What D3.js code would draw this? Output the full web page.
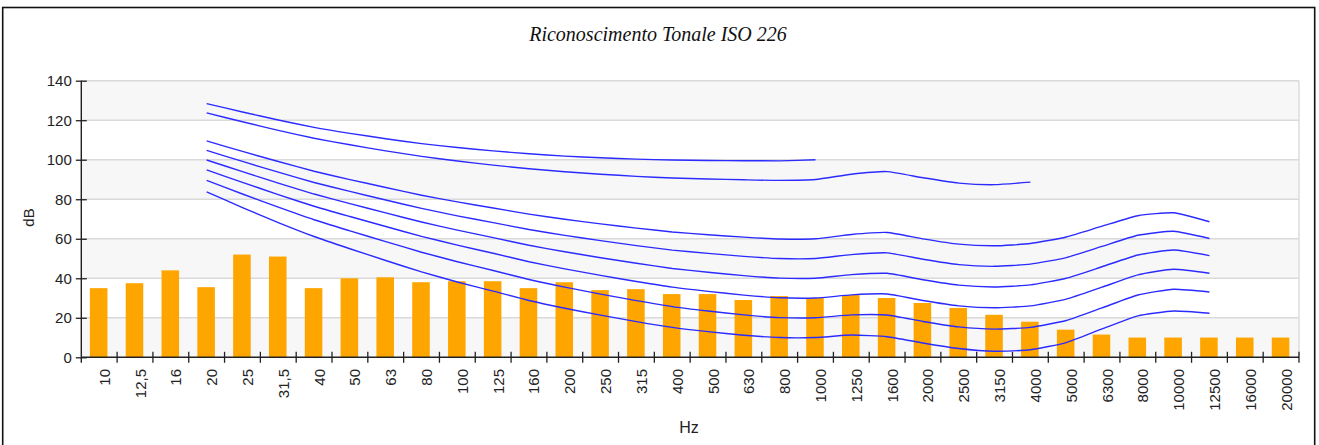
<!DOCTYPE html>
<html>
<head>
<meta charset="utf-8">
<script src="https://cdn.jsdelivr.net/npm/d3@7"></script>
<style>
  body { margin: 0; background: #fff; }
  svg { display: block; }
  text { font-family: "Liberation Sans", Arial, sans-serif; fill: #222; }
</style>
</head>
<body>
<svg width="1319" height="445"></svg>
<script>
// categories (third-octave bands, Hz)
const freqs = ["10","12,5","16","20","25","31,5","40","50","63","80","100","125","160","200","250","315",
               "400","500","630","800","1000","1250","1600","2000","2500","3150","4000","5000","6300",
               "8000","10000","12500","16000","20000"];

// measured level per band (dB)
const levels = [35,37.5,44,35.5,52,51,35,40,40.5,38,38.5,38.5,35,38,34,34.5,
                32,32,29,31,30,31.5,30,27.5,25,21.5,18,14,11.5,10,10,10,10,10];

// ISO 226 contour bands (20 Hz .. 12500 Hz)
const contourFreqs = ["20","25","31,5","40","50","63","80","100","125","160","200","250","315","400","500",
                      "630","800","1000","1250","1600","2000","2500","3150","4000","5000","6300","8000","10000","12500"];

const phon10 = [83.75,75.76,68.21,61.14,54.96,49.01,43.24,38.13,33.48,28.77,24.84,21.33,18.05,15.14,12.98,
                11.18,9.99,10.00,11.26,10.43,7.27,4.45,3.04,3.80,7.46,14.35,20.98,23.43,22.33];
const phon20 = [89.58,82.65,75.98,69.62,64.02,58.55,53.19,48.38,43.94,39.37,35.51,31.99,28.69,25.67,23.43,
                21.48,20.10,20.01,21.46,21.40,18.15,15.38,14.26,15.14,18.63,25.02,31.52,34.43,33.04];
const phon30 = [94.85,88.52,82.36,76.45,71.26,66.20,61.22,56.76,52.64,48.38,44.78,41.47,38.36,35.50,33.37,
                31.49,30.11,30.00,31.58,32.04,28.76,26.03,25.05,26.02,29.42,35.48,41.74,44.57,42.55];
const phon40 = [99.85,93.94,88.17,82.63,77.78,73.08,68.48,64.37,60.59,56.70,53.41,50.40,47.58,44.98,43.05,
                41.34,40.06,40.01,41.82,42.51,39.23,36.51,35.61,36.65,40.01,45.83,51.80,54.28,51.49];
const phon50 = [104.72,99.14,93.70,88.49,83.96,79.61,75.36,71.61,68.17,64.68,61.72,59.04,56.55,54.27,52.59,
                51.10,49.98,50.00,51.99,52.88,49.62,46.91,46.05,47.15,50.48,56.11,61.76,63.78,60.14];
const phon60 = [109.51,104.23,99.08,94.18,89.96,85.94,82.05,78.65,75.56,72.47,69.86,67.53,65.39,63.45,62.05,
                60.82,59.89,60.00,62.16,63.19,59.96,57.26,56.43,57.57,60.89,66.36,71.67,73.16,68.63];
// 90 phon up to 4000 Hz, 100 phon up to 1000 Hz
const phon90 = [123.71,119.20,114.88,110.87,107.55,104.51,101.67,99.33,97.29,95.43,93.89,92.65,91.60,90.76,
                90.24,89.84,89.55,90.00,92.65,94.00,90.88,88.18,87.38,88.66];
const phon100 = [128.41,124.15,120.11,116.38,113.35,110.65,108.16,106.17,104.48,103.03,101.85,100.97,100.30,
                 99.83,99.62,99.50,99.44,100.00];

const yTicks = [0,20,40,60,80,100,120,140];

const svg = d3.select("svg");
const plotLeft = 81.3, plotRight = 1299, plotTop = 80.7, plotBottom = 357.3;

const x = d3.scaleBand().domain(freqs).range([plotLeft, plotRight]);
const y = d3.scaleLinear().domain([0, 140]).range([plotBottom, plotTop]);
const bw = x.bandwidth();

// outer frame
svg.append("rect")
   .attr("x", 2.7).attr("y", 7.5)
   .attr("width", 1312).attr("height", 460)
   .attr("fill", "none").attr("stroke", "#111").attr("stroke-width", 1.6);

// title
svg.append("text")
   .attr("x", 658).attr("y", 41)
   .attr("text-anchor", "middle")
   .style("font-family", "'Liberation Serif', 'Times New Roman', serif")
   .style("font-style", "italic")
   .style("font-size", "20px")
   .style("fill", "#111")
   .text("Riconoscimento Tonale ISO 226");

// alternating background stripes
const stripes = d3.pairs(yTicks).filter((d, i) => i % 2 === 0);
svg.selectAll(".stripe")
   .data(stripes)
   .enter().append("rect")
   .attr("x", plotLeft).attr("width", plotRight - plotLeft)
   .attr("y", d => y(d[1]))
   .attr("height", d => y(d[0]) - y(d[1]))
   .attr("fill", "#f7f7f7");

// grid lines
svg.selectAll(".grid")
   .data(yTicks.slice(1))
   .enter().append("line")
   .attr("x1", plotLeft).attr("x2", plotRight)
   .attr("y1", d => y(d)).attr("y2", d => y(d))
   .attr("stroke", "#dadada").attr("stroke-width", 1.4);

// right border of plot area
svg.append("line")
   .attr("x1", plotRight).attr("x2", plotRight)
   .attr("y1", plotTop).attr("y2", plotBottom)
   .attr("stroke", "#dadada").attr("stroke-width", 1.4);

// bars
svg.selectAll(".bar")
   .data(levels)
   .enter().append("rect")
   .attr("x", (d, i) => x(freqs[i]) + bw * 0.24)
   .attr("width", bw * 0.49)
   .attr("y", d => y(d))
   .attr("height", d => y(0) - y(d))
   .attr("fill", "#ffa500");

// contour lines
const line = d3.line()
   .x((d, i) => x(contourFreqs[i]) + bw / 2)
   .y(d => y(d))
   .curve(d3.curveCardinal.tension(0.5));

svg.selectAll(".contour")
   .data([phon10, phon20, phon30, phon40, phon50, phon60, phon90, phon100])
   .enter().append("path")
   .attr("d", line)
   .attr("fill", "none")
   .attr("stroke", "#2b2bff")
   .attr("stroke-width", 1.4);

// y axis
const yAxis = svg.append("g")
   .attr("transform", `translate(${plotLeft},0)`)
   .call(d3.axisLeft(y).tickValues(yTicks).tickSize(5).tickPadding(10));
yAxis.select(".domain").remove();
yAxis.selectAll(".tick line").attr("x1", 5.5).attr("x2", -5.5).attr("stroke", "#222").attr("stroke-width", 1.3);
yAxis.selectAll(".tick text")
   .attr("x", -9.5)
   .style("font-size", "15px")
   .style("font-family", "'Liberation Sans', Arial, sans-serif")
   .attr("fill", "#222");
svg.append("line")
   .attr("x1", plotLeft).attr("x2", plotLeft)
   .attr("y1", plotTop).attr("y2", plotBottom + 5.5)
   .attr("stroke", "#222").attr("stroke-width", 1.4);

// x axis line and boundary ticks
svg.append("line")
   .attr("x1", plotLeft).attr("x2", plotRight)
   .attr("y1", plotBottom).attr("y2", plotBottom)
   .attr("stroke", "#222").attr("stroke-width", 1.4);

const bounds = freqs.map(d => x(d)).concat([plotRight]);
svg.selectAll(".xtick")
   .data(bounds.slice(1))
   .enter().append("line")
   .attr("x1", d => d).attr("x2", d => d)
   .attr("y1", plotBottom - 5.5).attr("y2", plotBottom + 5.5)
   .attr("stroke", "#222").attr("stroke-width", 1.3);

svg.selectAll(".xlabel")
   .data(freqs)
   .enter().append("text")
   .attr("transform", d => `translate(${x(d) + bw / 2 + 10.5},369) rotate(-90)`)
   .attr("text-anchor", "end")
   .style("font-size", "15px")
   .text(d => d);

// axis titles
svg.append("text")
   .attr("transform", "translate(33.5,217.5) rotate(-90)")
   .attr("text-anchor", "middle")
   .style("font-size", "15px")
   .text("dB");

svg.append("text")
   .attr("x", 689).attr("y", 433)
   .attr("text-anchor", "middle")
   .style("font-size", "16px")
   .text("Hz");
</script>
</body>
</html>
